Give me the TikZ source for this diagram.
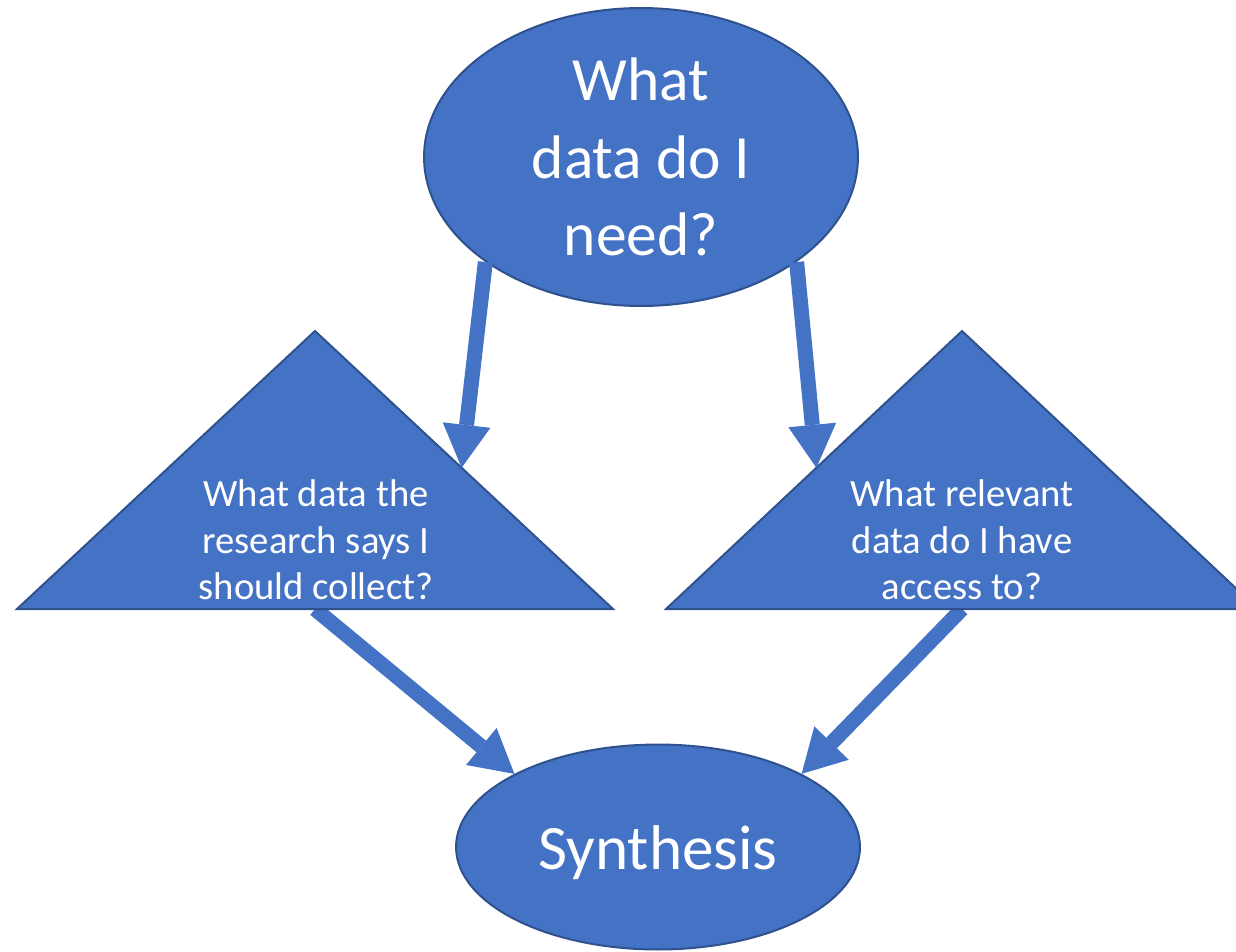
\documentclass[tikz,border=0pt]{standalone}
\usepackage{fontspec}
\setmainfont{Carlito}
\usetikzlibrary{arrows.meta,shapes.geometric,calc}
\definecolor{fillblue}{HTML}{4472C4}
\definecolor{edgeblue}{HTML}{2F528F}
\begin{document}
\begin{tikzpicture}[x=0.02cm,y=-0.02cm,
  bubble/.style={ellipse, draw=edgeblue, fill=fillblue, line width=0.04cm, inner sep=0pt, text=white, align=center},
  tri/.style={draw=edgeblue, fill=fillblue, line width=0.04cm, line join=miter},
  tritext/.style={text=white, align=center, font=\fontsize{22}{26.4}\selectfont},
  flow/.style={draw=fillblue, line width=0.3cm, -{Triangle[width=0.96cm,length=0.86cm,line width=0pt]}}]
\clip (0,0) rectangle (1236,951);
% corners of the two triangles
\coordinate (lA) at (315,331);
\coordinate (lL) at (17,609);
\coordinate (lR) at (613,609);
\coordinate (rA) at (962,331);
\coordinate (rL) at (666,609);
\coordinate (rR) at (1258,609);
\coordinate (lB) at ($(lL)!0.5!(lR)$);
\coordinate (rB) at ($(rL)!0.5!(rR)$);
\coordinate (lHit) at ($(lA)!0.492!(lR)$);
\coordinate (rHit) at ($(rA)!0.492!(rL)$);
\node[bubble, minimum width=8.68cm, minimum height=5.96cm, font=\fontsize{35}{44.2}\selectfont] (q) at (641,157) {What\\data do I\\need?};
\node[bubble, minimum width=8.08cm, minimum height=4.1cm, font=\fontsize{36}{43}\selectfont] (s) at (658,847) {\raisebox{-0.12cm}[\height][\depth]{Synthesis}};
\draw[flow] (lB) -- (s.153);
\draw[flow] (rB) -- (s.27);
\draw[tri] (lA) -- (lL) -- (lR) -- cycle;
\draw[tri] (rA) -- (rL) -- (rR) -- cycle;
\node[tritext] (lt) at (316,540) {What data the\\research says I\\should collect?};
\node[tritext] (rt) at (962,540) {What relevant\\data do I have\\access to?};
\draw[flow] (q.214) -- (lHit);
\draw[flow] (q.326) -- (rHit);
\end{tikzpicture}
\end{document}
